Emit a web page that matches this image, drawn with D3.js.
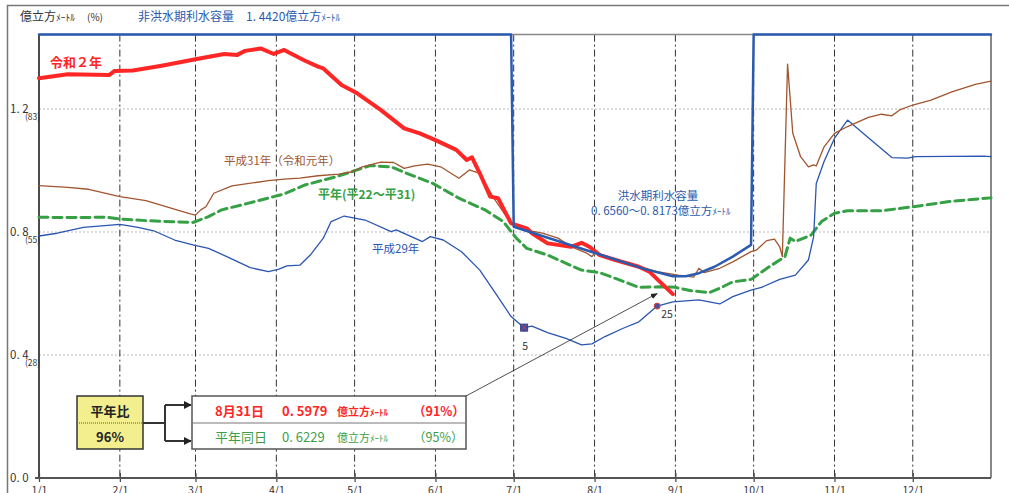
<!DOCTYPE html>
<html>
<head>
<meta charset="utf-8">
<script src="https://cdn.jsdelivr.net/npm/d3@7"></script>
<style>
  body { margin: 0; background: #fff; }
  text { font-family: "Noto Sans CJK JP", "Noto Sans", sans-serif; }
</style>
</head>
<body>
<svg id="drawing_region"></svg>
<script>
// ---- data (億立方メートル) ----
const capacityMax = 1.442;
const monthTicks = ["1/1","2/1","3/1","4/1","5/1","6/1","7/1","8/1","9/1","10/1","11/1","12/1"];
const yTicks = [0.0, 0.4, 0.8, 1.2];

// 利水容量 (非洪水期 1.4420 / 洪水期 0.6560〜0.8173)
const capacity = [["1/1",1.442],["6/30",1.442],["7/1",0.8173],["7/31",0.735],["8/20",0.680],["8/31",0.656],
  ["9/5",0.656],["9/10",0.666],["9/16",0.687],["9/23",0.720],["9/30",0.758],["10/1",1.442],["12/31",1.442]];

// 令和2年
const reiwa2 = [["1/1",1.300],["1/12",1.313],["1/28",1.311],["1/30",1.324],["2/6",1.325],["2/17",1.341],["3/1",1.362],
  ["3/12",1.379],["3/17",1.376],["3/20",1.389],["3/26",1.397],["3/31",1.379],["4/4",1.392],["4/6",1.383],["4/12",1.357],
  ["4/17",1.338],["4/19",1.332],["4/26",1.278],["5/2",1.251],["5/11",1.197],["5/20",1.137],["5/26",1.121],["6/1",1.099],
  ["6/9",1.067],["6/13",1.034],["6/15",1.043],["6/18",0.991],["6/22",0.915],["6/25",0.910],["6/30",0.828],["7/6",0.812],
  ["7/8",0.796],["7/14",0.763],["7/23",0.752],["7/27",0.765],["7/30",0.752],["8/3",0.725],["8/9",0.709],["8/18",0.687],
  ["8/22",0.671],["8/31",0.5979]];

// 平成31年（令和元年）
const heisei31 = [["1/1",0.951],["1/12",0.945],["1/20",0.939],["1/25",0.929],["2/1",0.915],["2/11",0.902],["2/19",0.882],
  ["2/28",0.859],["3/1",0.855],["3/3",0.872],["3/5",0.882],["3/8",0.926],["3/15",0.950],["3/29",0.967],["4/4",0.972],
  ["4/10",0.975],["4/17",0.983],["4/25",0.988],["4/30",0.996],["5/4",1.012],["5/11",1.027],["5/16",1.026],["5/20",1.007],
  ["5/24",1.015],["5/29",1.021],["6/3",1.012],["6/10",0.975],["6/14",1.002],["6/18",0.991],["6/23",0.915],["6/30",0.828],
  ["7/6",0.807],["7/8",0.803],["7/12",0.796],["7/18",0.780],["7/23",0.752],["7/29",0.731],["7/31",0.720],["8/1",0.731],
  ["8/8",0.714],["8/16",0.693],["8/25",0.671],["9/2",0.660],["9/8",0.653],["9/10",0.682],["9/12",0.668],["9/18",0.682],
  ["9/23",0.703],["9/30",0.736],["10/2",0.741],["10/6",0.772],["10/9",0.777],["10/11",0.752],["10/12",0.720],["10/14",1.346],
  ["10/16",1.121],["10/19",1.045],["10/22",1.012],["10/24",1.018],["10/25",1.015],["10/28",1.077],["11/1",1.121],
  ["11/6",1.143],["11/14",1.173],["11/19",1.183],["11/23",1.178],["11/26",1.197],["12/1",1.213],["12/8",1.229],
  ["12/16",1.256],["12/25",1.280],["12/31",1.291]];

// 平年（平22〜平31）
const heinen = [["1/1",0.848],["1/12",0.847],["1/27",0.848],["2/1",0.842],["2/11",0.837],["2/22",0.833],["2/29",0.831],
  ["3/6",0.850],["3/11",0.872],["3/21",0.893],["3/31",0.915],["4/4",0.924],["4/12",0.953],["4/24",0.980],["5/2",1.002],
  ["5/7",1.016],["5/15",1.012],["5/21",0.991],["5/31",0.958],["6/10",0.910],["6/20",0.872],["6/27",0.834],["7/2",0.780],
  ["7/6",0.747],["7/14",0.725],["7/27",0.676],["8/3",0.668],["8/9",0.649],["8/18",0.620],["8/26",0.622],["9/1",0.620],
  ["9/7",0.609],["9/14",0.603],["9/18",0.617],["9/23",0.638],["9/30",0.646],["10/7",0.687],["10/13",0.720],["10/15",0.780],
  ["10/17",0.769],["10/23",0.790],["10/27",0.834],["11/1",0.861],["11/6",0.869],["11/19",0.869],["12/1",0.882],
  ["12/15",0.899],["12/29",0.910],["12/31",0.911]];

// 平成29年
const heisei29 = [["1/1",0.787],["1/8",0.796],["1/18",0.815],["2/1",0.825],["2/8",0.815],["2/14",0.804],["2/22",0.774],
  ["2/29",0.758],["3/6",0.747],["3/13",0.720],["3/22",0.684],["3/29",0.671],["4/2",0.679],["4/5",0.690],["4/10",0.692],
  ["4/14",0.725],["4/19",0.780],["4/22",0.834],["4/27",0.852],["5/5",0.839],["5/15",0.801],["5/17",0.807],["5/27",0.769],
  ["5/30",0.785],["6/4",0.774],["6/11",0.736],["6/18",0.676],["6/24",0.601],["6/30",0.525],["7/5",0.489],["7/8",0.494],
  ["7/14",0.473],["7/21",0.454],["7/27",0.433],["7/31",0.436],["8/5",0.460],["8/12",0.487],["8/18",0.508],["8/25",0.559],
  ["8/31",0.573],["9/10",0.579],["9/18",0.566],["9/23",0.590],["9/30",0.611],["10/4",0.620],["10/11",0.646],["10/17",0.660],
  ["10/22",0.709],["10/24",0.785],["10/25",0.958],["10/28",1.029],["11/1",1.105],["11/6",1.164],["11/15",1.099],
  ["11/23",1.042],["11/29",1.040],["12/2",1.045],["12/28",1.047],["12/31",1.045]];

const h29Marks = [["7/5","5","square"],["8/25","25","circle"]];

const todayLabel = "8月31日", todayValue = "0. 5979", todayPct = "91%";
const normalLabel = "平年同日", normalValue = "0. 6229", normalPct = "95%";
const ratioPct = "96%";

// ---- chart ----
const W = 1009, H = 493;
const margin = {top: 34.6, right: 18, bottom: 15, left: 39};

const parse = s => { const [m, d] = s.split("/").map(Number); return new Date(2020, m - 1, d); };

const svg = d3.select("#drawing_region").attr("width", W).attr("height", H);

const x = d3.scaleTime()
  .domain([new Date(2020, 0, 1), new Date(2020, 11, 31)])
  .range([margin.left, W - margin.right]);
const y = d3.scaleLinear()
  .domain([0, capacityMax])
  .range([H - margin.bottom, margin.top]);

const x0 = x.range()[0], x1 = x.range()[1], y0 = y.range()[0], y1 = y.range()[1];

// outer frame
svg.append("rect").attr("x", 7.5).attr("y", 5.5).attr("width", 1010).attr("height", 500)
  .attr("fill", "none").attr("stroke", "#777").attr("stroke-width", 1.5);

// horizontal grid
svg.append("g").selectAll("line").data(yTicks.filter(v => v > 0)).join("line")
  .attr("x1", x0).attr("x2", x1).attr("y1", d => y(d)).attr("y2", d => y(d))
  .attr("stroke", "#bbb").attr("stroke-width", 1).attr("stroke-dasharray", "2,2");

// vertical grid
svg.append("g").selectAll("line").data(monthTicks.slice(1)).join("line")
  .attr("x1", d => x(parse(d))).attr("x2", d => x(parse(d)))
  .attr("y1", y1).attr("y2", y0)
  .attr("stroke", "#333").attr("stroke-width", 1).attr("stroke-dasharray", "7,3,2,3");

// plot border (top/right), axes
svg.append("line").attr("x1", x0).attr("x2", x1).attr("y1", y1).attr("y2", y1).attr("stroke", "#888").attr("stroke-width", 1.5);
svg.append("line").attr("x1", x1).attr("x2", x1).attr("y1", y1).attr("y2", y0).attr("stroke", "#888").attr("stroke-width", 2);
svg.append("line").attr("x1", x0).attr("x2", x0).attr("y1", y1).attr("y2", y0).attr("stroke", "#111").attr("stroke-width", 1.5);

const xaxis = d3.axisBottom(x)
  .tickValues(monthTicks.map(parse))
  .tickFormat(d => `${d.getMonth() + 1}/${d.getDate()}`)
  .tickSize(9).tickPadding(5);
const xg = svg.append("g").attr("transform", `translate(0, ${y0 - 5})`).call(xaxis);
xg.select(".domain").remove();
xg.selectAll(".tick line").attr("stroke", "#444").attr("stroke-width", 1.2);
xg.selectAll(".tick text").attr("fill", "#333").attr("font-size", 10.5)
  .attr("font-family", "'Liberation Sans Narrow', 'DejaVu Sans Condensed', sans-serif");
svg.append("line").attr("x1", x0 - 4).attr("x2", x1).attr("y1", y0).attr("y2", y0).attr("stroke", "#555").attr("stroke-width", 2);

// y labels
const yl = svg.append("g");
yl.selectAll("text.v").data(yTicks).join("text").attr("class", "v")
  .attr("x", 10).attr("y", d => y(d) + 4).attr("fill", "#333").attr("font-size", 11.5)
  .attr("font-family", "'Liberation Sans Narrow', 'DejaVu Sans Condensed', sans-serif")
  .text(d => d.toFixed(1).replace(".", ". "));
yl.selectAll("text.p").data(yTicks.filter(v => v > 0)).join("text").attr("class", "p")
  .attr("x", 25).attr("y", d => y(d) + 11).attr("fill", "#333").attr("font-size", 8.5)
  .attr("font-family", "'Liberation Sans Narrow', 'DejaVu Sans Condensed', sans-serif")
  .text(d => `(${Math.round(d / capacityMax * 100)})`);

// header texts
const hdr = svg.append("text").attr("x", 20).attr("y", 21).attr("font-size", 12).attr("fill", "#333");
hdr.append("tspan").text("億立方");
hdr.append("tspan").attr("font-size", 9.5).text("ﾒｰﾄﾙ");
hdr.append("tspan").attr("dx", 12).attr("font-size", 10).text("(%)");
const hdr2 = svg.append("text").attr("x", 138).attr("y", 21).attr("font-size", 12).attr("fill", "#2B5BAE");
hdr2.append("tspan").text(`非洪水期利水容量　${capacityMax.toFixed(4).replace(".", ". ")}億立方`);
hdr2.append("tspan").attr("font-size", 9.5).text("ﾒｰﾄﾙ");

// lines
const line = d3.line().x(d => x(parse(d[0]))).y(d => y(d[1]));
const series = [
  {data: heinen,   color: "#35A044", width: 3,   dash: "9,5"},
  {data: heisei29, color: "#2A55B0", width: 1.3, dash: null},
  {data: heisei31, color: "#A0552F", width: 1.3, dash: null},
  {data: reiwa2,   color: "#FF2626", width: 4,   dash: null},
  {data: capacity, color: "#2B5BAE", width: 2.5, dash: null}
];
svg.append("g").selectAll("path").data(series).join("path")
  .attr("d", d => line(d.data))
  .attr("fill", "none")
  .attr("stroke", d => d.color)
  .attr("stroke-width", d => d.width)
  .attr("stroke-dasharray", d => d.dash)
  .attr("stroke-linejoin", "round")
  .attr("stroke-linecap", "round");

// 平成29年 markers
const val29 = new Map(heisei29);
const mk = svg.append("g");
h29Marks.forEach(([dt, lab, shape]) => {
  const px = x(parse(dt)), py = y(val29.get(dt));
  if (shape === "square") {
    mk.append("rect").attr("x", px - 3.5).attr("y", py - 3.5).attr("width", 7).attr("height", 7)
      .attr("fill", "#3A4FA0").attr("stroke", "#2A3F90");
    mk.append("path").attr("d", `M${px-3},${py-3}L${px+3},${py+3}M${px-3},${py+3}L${px+3},${py-3}`)
      .attr("stroke", "#E04040").attr("stroke-width", 0.8);
    mk.append("text").attr("x", px - 2).attr("y", py + 22).attr("font-size", 10.5).attr("fill", "#333")
      .attr("font-family", "'Liberation Sans Narrow', sans-serif").text(lab);
  } else {
    mk.append("circle").attr("cx", px).attr("cy", py).attr("r", 3)
      .attr("fill", "#4A4FA0").attr("stroke", "#E04040").attr("stroke-width", 1);
    mk.append("text").attr("x", px + 4).attr("y", py + 12).attr("font-size", 10.5).attr("fill", "#333")
      .attr("font-family", "'Liberation Sans Narrow', sans-serif").text(lab);
  }
});

// series labels
svg.append("text").attr("x", 50).attr("y", 67).attr("font-size", 13).attr("font-weight", "bold")
  .attr("fill", "#FF2626").text("令和２年");
svg.append("text").attr("x", 224).attr("y", 165).attr("font-size", 11.5).attr("fill", "#A0552F")
  .text("平成31年（令和元年）");
svg.append("text").attr("x", 318).attr("y", 199).attr("font-size", 12).attr("font-weight", "bold")
  .attr("fill", "#35A044").text("平年(平22～平31)");
svg.append("text").attr("x", 372).attr("y", 253).attr("font-size", 11.5).attr("fill", "#2A55B0")
  .text("平成29年");
svg.append("text").attr("x", 658).attr("y", 200).attr("font-size", 11.5).attr("fill", "#2B5BAE")
  .attr("text-anchor", "middle").text("洪水期利水容量");
const cap2 = svg.append("text").attr("x", 591).attr("y", 215).attr("font-size", 11.5).attr("fill", "#2B5BAE");
cap2.append("tspan").text("0. 6560～0. 8173億立方");
cap2.append("tspan").attr("font-size", 9).text("ﾒｰﾄﾙ");

// arrow markers
const defs = svg.append("defs");
defs.append("marker").attr("id", "ah").attr("viewBox", "0 0 10 10").attr("refX", 9).attr("refY", 5)
  .attr("markerWidth", 4).attr("markerHeight", 4).attr("orient", "auto")
  .append("path").attr("d", "M0,0L10,5L0,10z").attr("fill", "#222");
defs.append("marker").attr("id", "ah2").attr("viewBox", "0 0 10 10").attr("refX", 9).attr("refY", 5)
  .attr("markerWidth", 7).attr("markerHeight", 7).attr("orient", "auto").attr("markerUnits", "userSpaceOnUse")
  .append("path").attr("d", "M0,1L10,5L0,9z").attr("fill", "#222");

// yellow ratio box
const rb = svg.append("g");
rb.append("rect").attr("x", 77).attr("y", 396).attr("width", 66).attr("height", 53)
  .attr("fill", "#F3EE8E").attr("stroke", "#333").attr("stroke-width", 1.5);
rb.append("line").attr("x1", 77).attr("x2", 143).attr("y1", 423).attr("y2", 423)
  .attr("stroke", "#555").attr("stroke-dasharray", "1,1");
rb.append("text").attr("x", 110).attr("y", 416).attr("text-anchor", "middle").attr("font-size", 13)
  .attr("font-weight", "bold").attr("fill", "#222").text("平年比");
rb.append("text").attr("x", 110).attr("y", 442).attr("text-anchor", "middle").attr("font-size", 13)
  .attr("font-weight", "bold").attr("fill", "#222").text(ratioPct);

// connector
rb.append("path").attr("d", "M143,423H165M165,405V441").attr("fill", "none").attr("stroke", "#333").attr("stroke-width", 2);
rb.append("line").attr("x1", 165).attr("x2", 191).attr("y1", 405).attr("y2", 405)
  .attr("stroke", "#333").attr("stroke-width", 2).attr("marker-end", "url(#ah)");
rb.append("line").attr("x1", 165).attr("x2", 191).attr("y1", 441).attr("y2", 441)
  .attr("stroke", "#333").attr("stroke-width", 2).attr("marker-end", "url(#ah)");

// info box
const ib = svg.append("g");
ib.append("rect").attr("x", 192).attr("y", 396).attr("width", 274).attr("height", 53)
  .attr("fill", "#fff").attr("stroke", "#555").attr("stroke-width", 1.5);
ib.append("line").attr("x1", 192).attr("x2", 466).attr("y1", 423).attr("y2", 423).attr("stroke", "#777");
function infoRow(yy, color, weight, lab, val, pct) {
  ib.append("text").attr("x", 215).attr("y", yy).attr("font-size", 13).attr("font-weight", weight).attr("fill", color).text(lab);
  ib.append("text").attr("x", 282).attr("y", yy).attr("font-size", 13).attr("font-weight", weight).attr("fill", color).text(val);
  const t = ib.append("text").attr("x", 337).attr("y", yy).attr("font-size", 11).attr("font-weight", weight).attr("fill", color);
  t.append("tspan").text("億立方");
  t.append("tspan").attr("font-size", 9).text("ﾒｰﾄﾙ");
  ib.append("text").attr("x", 413).attr("y", yy).attr("font-size", 12.5).attr("font-weight", weight).attr("fill", color).text(`（${pct}）`);
}
infoRow(416, "#FF2626", "bold", todayLabel, todayValue, todayPct);
infoRow(442, "#3C9E4A", "normal", normalLabel, normalValue, normalPct);

// pointer arrow to the current-year line
svg.append("line").attr("x1", 466).attr("y1", 396)
  .attr("x2", x(parse("8/25"))).attr("y2", y(0.6))
  .attr("stroke", "#222").attr("stroke-width", 0.8).attr("marker-end", "url(#ah2)");
</script>
</body>
</html>
